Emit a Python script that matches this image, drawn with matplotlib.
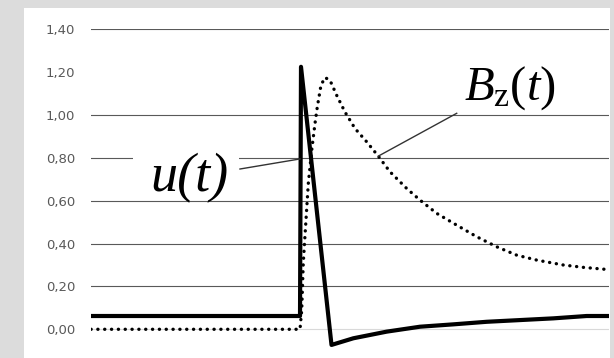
import matplotlib
matplotlib.use("Agg")
import matplotlib.pyplot as plt
from matplotlib.patches import Rectangle

# time axis in % of the recorded window
u_t = [0, 40.35, 40.54, 46.43, 50.64, 57.08, 63.51, 69.94, 76.39, 82.82, 89.25, 95.69, 99.86]
u_val = [0.062, 0.062, 1.225, -0.073, -0.042, -0.011, 0.012, 0.023, 0.035, 0.043, 0.051, 0.062, 0.062]

bz_t = [0, 40.35, 40.68, 40.98, 41.45, 41.95, 42.61, 43.24, 43.69, 44.40, 45.17, 46.14,
        47.43, 49.03, 50.97, 53.22, 55.46, 57.72, 60.95, 63.51, 66.74, 70.60, 74.46,
        78.32, 82.18, 86.04, 91.18, 95.04, 99.23]
bz_val = [0.0, 0.0, 0.09, 0.31, 0.49, 0.68, 0.836, 0.96, 1.038, 1.139, 1.175, 1.162,
          1.092, 1.014, 0.937, 0.875, 0.808, 0.735, 0.657, 0.603, 0.541, 0.486, 0.432,
          0.385, 0.346, 0.323, 0.30, 0.289, 0.28]

y_ticks = [0.0, 0.2, 0.4, 0.6, 0.8, 1.0, 1.2, 1.4]
y_labels = ["0,00", "0,20", "0,40", "0,60", "0,80", "1,00", "1,20", "1,40"]
grid_vals = [0.2, 0.4, 0.6, 0.8, 1.0, 1.4]

plt.rcParams['mathtext.fontset'] = 'custom'
plt.rcParams['mathtext.it'] = 'Liberation Serif:italic'
plt.rcParams['mathtext.rm'] = 'Liberation Serif'

fig = plt.figure(figsize=(6.14, 3.58), dpi=100)
fig.patch.set_facecolor('#dcdcdc')
# white chart panel
fig.patches.append(Rectangle((24 / 614, 0), 586 / 614, 350 / 358,
                             transform=fig.transFigure, facecolor='white',
                             edgecolor='none', zorder=-10))

ax = fig.add_axes([91 / 614, 3 / 358, 518 / 614, 325.7 / 358])
ax.set_zorder(5)
ax.set_facecolor('none')
ax.set_xlim(0, 100)
ax.set_ylim(-0.12, 1.40)

for v in grid_vals:
    ax.axhline(v, color='#595959', lw=0.8, zorder=1)
ax.axhline(0.0, color='#d9d9d9', lw=0.8, zorder=1)

ax.plot(bz_t, bz_val, color='black', lw=2.4, linestyle=(0, (0.05, 2.0)),
        dash_capstyle='round', zorder=3)
ax.plot(u_t, u_val, color='black', lw=3.0, solid_joinstyle='round', zorder=4)

ax.set_yticks(y_ticks)
ax.set_yticklabels(y_labels)
ax.set_xticks([])
ax.tick_params(axis='y', length=0, pad=11.5, labelsize=9.5, labelcolor='#595959')
for s in ax.spines.values():
    s.set_visible(False)

# label u(t): white box behind the text hides the 0,80 gridline
ax.add_patch(Rectangle((8.2, 0.63), 20.4, 0.23, facecolor='white',
                       edgecolor='none', zorder=2))
ax.plot([28.76, 40.35], [0.748, 0.795], color='#333333', lw=1.0, zorder=5)
ax.text(18.9, 0.708, "u(t)", family='Liberation Serif', style='italic', fontsize=39,
        ha='center', va='center', zorder=6)

# label Bz(t)
ax.plot([70.6, 55.46], [1.008, 0.808], color='#333333', lw=1.0, zorder=5)
ax.text(80.9, 1.073, r'$\mathit{B}_{\mathrm{z}}\mathit{(t)}$', fontsize=35,
        ha='center', va='baseline', zorder=6)

fig.savefig("out.png", dpi=100, facecolor=fig.get_facecolor())
